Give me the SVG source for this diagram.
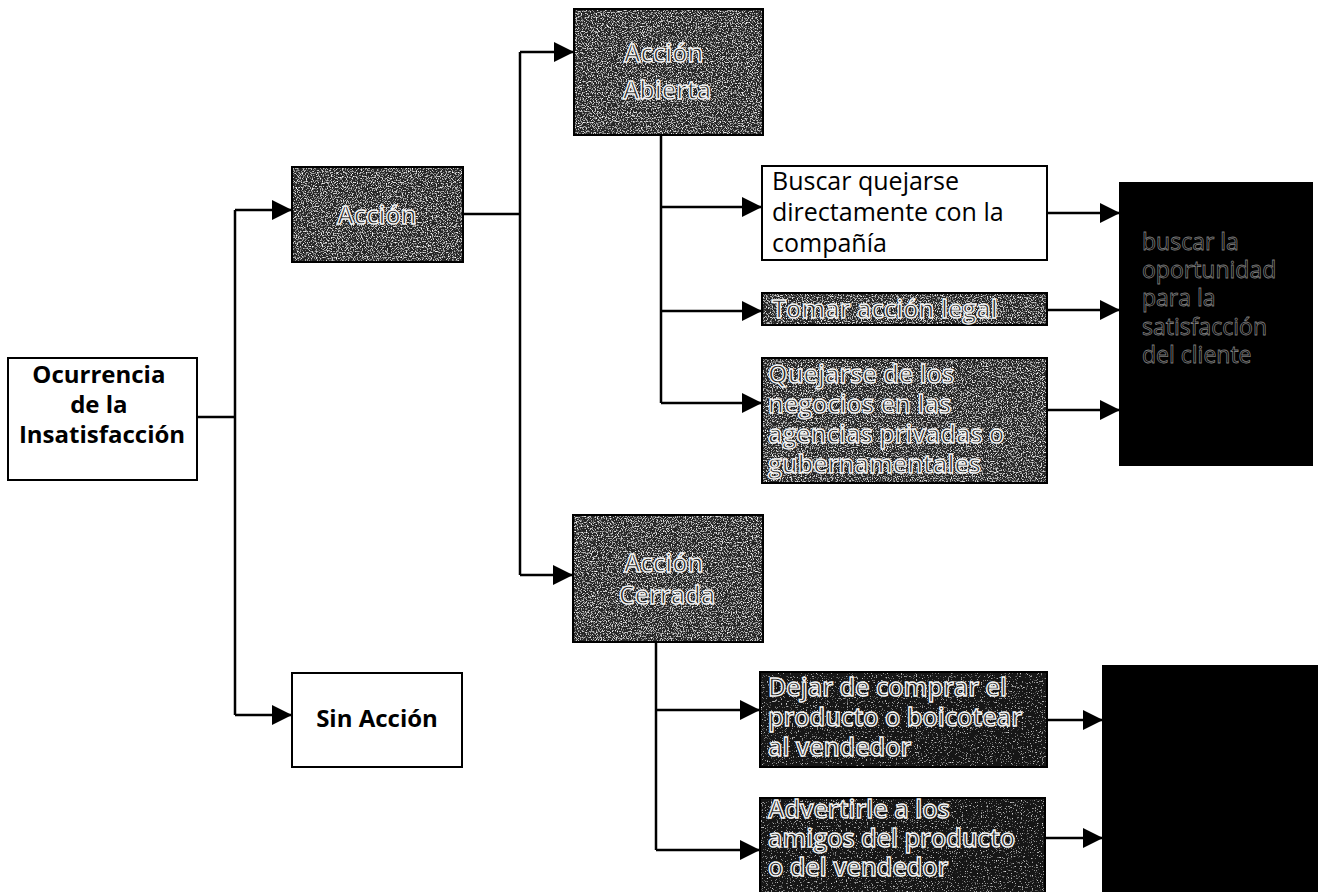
<svg xmlns="http://www.w3.org/2000/svg" width="1318" height="892" viewBox="0 0 1318 892">
  <style>
    .box { stroke: #000; stroke-width: 2; }
    .frame { fill: none; stroke: #000; stroke-width: 2; }
    .light { fill: #fff; }
    .dark { fill: #262626; }
    .darker { fill: #121212; }
    .black { fill: #000; }
    .lbl { font-family: "Open Sans", "Liberation Sans", sans-serif; font-size: 25px; fill: #000; }
    .bold { font-weight: bold; font-size: 24px; }
    .outline { fill: #1e1e1e; stroke: #f4f4f4; stroke-width: 1.4px; font-weight: 600; }
    .ghost { fill: #000; stroke: #7a7a7a; stroke-width: 0.8px; font-size: 23px; }
    .wire { fill: none; stroke: #000; stroke-width: 2.5; }
    .arrow { marker-end: url(#head); }
  </style>
  <defs>
    <marker id="head" viewBox="0 0 20 20" refX="20" refY="10" markerWidth="20" markerHeight="20" markerUnits="userSpaceOnUse" orient="auto">
      <path d="M0,0 L20,10 L0,20 Z" fill="#000"/>
    </marker>
    <!-- speckled fill used on the dark boxes -->
    <filter id="grain" x="0" y="0" width="100%" height="100%">
      <feTurbulence type="fractalNoise" baseFrequency="0.8" numOctaves="2" seed="7" result="n"/>
      <feColorMatrix in="n" type="matrix" values="0 0 0 0 1  0 0 0 0 1  0 0 0 0 1  3.4 0 0 0 -1.72" result="speck"/>
      <feComposite in="speck" in2="SourceGraphic" operator="in" result="s2"/>
      <feMerge><feMergeNode in="SourceGraphic"/><feMergeNode in="s2"/></feMerge>
    </filter>
    <filter id="grainLow" x="0" y="0" width="100%" height="100%">
      <feTurbulence type="fractalNoise" baseFrequency="0.8" numOctaves="2" seed="11" result="n"/>
      <feColorMatrix in="n" type="matrix" values="0 0 0 0 1  0 0 0 0 1  0 0 0 0 1  3 0 0 0 -1.85" result="speck"/>
      <feComposite in="speck" in2="SourceGraphic" operator="in" result="s2"/>
      <feMerge><feMergeNode in="SourceGraphic"/><feMergeNode in="s2"/></feMerge>
    </filter>
  </defs>

  <rect width="1318" height="892" fill="#fff"/>

  <!-- connectors -->
  <g id="connectors">
    <path class="wire" d="M197,417 H235"/>
    <path class="wire" d="M235,210 V715"/>
    <path class="wire arrow" d="M235,210 H292"/>
    <path class="wire arrow" d="M235,715 H292"/>

    <path class="wire" d="M463,214 H520"/>
    <path class="wire" d="M520,52 V575"/>
    <path class="wire arrow" d="M520,52 H574"/>
    <path class="wire arrow" d="M520,575 H573"/>

    <path class="wire" d="M661,135 V403"/>
    <path class="wire arrow" d="M661,207 H762"/>
    <path class="wire arrow" d="M661,311 H762"/>
    <path class="wire arrow" d="M661,403 H762"/>

    <path class="wire arrow" d="M1047,213 H1120"/>
    <path class="wire arrow" d="M1047,310 H1120"/>
    <path class="wire arrow" d="M1047,410 H1120"/>

    <path class="wire" d="M656,642 V850"/>
    <path class="wire arrow" d="M656,710 H760"/>
    <path class="wire arrow" d="M656,850 H760"/>

    <path class="wire arrow" d="M1047,720 H1103"/>
    <path class="wire arrow" d="M1045,838 H1103"/>
  </g>

  <!-- nodes -->
  <g id="ocurrencia">
    <rect class="box light" x="8" y="358" width="189" height="122"/>
    <text class="lbl bold" text-anchor="middle">
      <tspan x="102" y="383">Ocurrencia</tspan>
      <tspan x="102" y="413">de la</tspan>
      <tspan x="102" y="443">Insatisfacción</tspan>
    </text>
  </g>

  <g id="accion">
    <rect class="dark" filter="url(#grain)" x="292" y="167" width="171" height="95"/>
    <rect class="frame" x="292" y="167" width="171" height="95"/>
    <text class="lbl outline" x="377" y="224" text-anchor="middle">Acción</text>
  </g>

  <g id="sin-accion">
    <rect class="box light" x="292" y="673" width="170" height="94"/>
    <text class="lbl bold" x="377" y="727" text-anchor="middle">Sin Acción</text>
  </g>

  <g id="accion-abierta">
    <rect class="dark" filter="url(#grain)" x="574" y="9" width="189" height="126"/>
    <rect class="frame" x="574" y="9" width="189" height="126"/>
    <text class="lbl outline" text-anchor="middle">
      <tspan x="667" y="62">Acción</tspan>
      <tspan x="667" y="99">Abierta</tspan>
    </text>
  </g>

  <g id="accion-cerrada">
    <rect class="dark" filter="url(#grain)" x="573" y="515" width="190" height="127"/>
    <rect class="frame" x="573" y="515" width="190" height="127"/>
    <text class="lbl outline" text-anchor="middle">
      <tspan x="667" y="572">Acción</tspan>
      <tspan x="667" y="604">Cerrada</tspan>
    </text>
  </g>

  <g id="buscar-quejarse">
    <rect class="box light" x="762" y="166" width="285" height="94"/>
    <text class="lbl">
      <tspan x="772" y="190">Buscar quejarse</tspan>
      <tspan x="772" y="221">directamente con la</tspan>
      <tspan x="772" y="252">compañía</tspan>
    </text>
  </g>

  <g id="accion-legal">
    <rect class="dark" filter="url(#grain)" x="762" y="293" width="285" height="32"/>
    <rect class="frame" x="762" y="293" width="285" height="32"/>
    <text class="lbl outline" x="772" y="318">Tomar acción legal</text>
  </g>

  <g id="quejarse-agencias">
    <rect class="dark" filter="url(#grain)" x="762" y="358" width="285" height="125"/>
    <rect class="frame" x="762" y="358" width="285" height="125"/>
    <text class="lbl outline">
      <tspan x="768" y="383">Quejarse de los</tspan>
      <tspan x="768" y="413">negocios en las</tspan>
      <tspan x="768" y="443">agencias privadas o</tspan>
      <tspan x="768" y="473">gubernamentales</tspan>
    </text>
  </g>

  <g id="satisfaccion">
    <rect class="box black" x="1120" y="183" width="192" height="282"/>
    <text class="lbl ghost">
      <tspan x="1142" y="250">buscar la</tspan>
      <tspan x="1142" y="278">oportunidad</tspan>
      <tspan x="1142" y="306">para la</tspan>
      <tspan x="1142" y="335">satisfacción</tspan>
      <tspan x="1142" y="363">del cliente</tspan>
    </text>
  </g>

  <g id="dejar-comprar">
    <rect class="darker" filter="url(#grainLow)" x="760" y="672" width="287" height="95"/>
    <rect class="frame" x="760" y="672" width="287" height="95"/>
    <text class="lbl outline">
      <tspan x="768" y="696">Dejar de comprar el</tspan>
      <tspan x="768" y="726">producto o boicotear</tspan>
      <tspan x="768" y="756">al vendedor</tspan>
    </text>
  </g>

  <g id="advertir-amigos">
    <rect class="darker" filter="url(#grainLow)" x="760" y="798" width="285" height="96"/>
    <rect class="frame" x="760" y="798" width="285" height="96"/>
    <text class="lbl outline">
      <tspan x="768" y="818">Advertirle a los</tspan>
      <tspan x="768" y="847">amigos del producto</tspan>
      <tspan x="768" y="876">o del vendedor</tspan>
    </text>
  </g>

  <g id="resultado-cerrada">
    <rect class="box black" x="1103" y="666" width="216" height="230"/>
  </g>
</svg>
